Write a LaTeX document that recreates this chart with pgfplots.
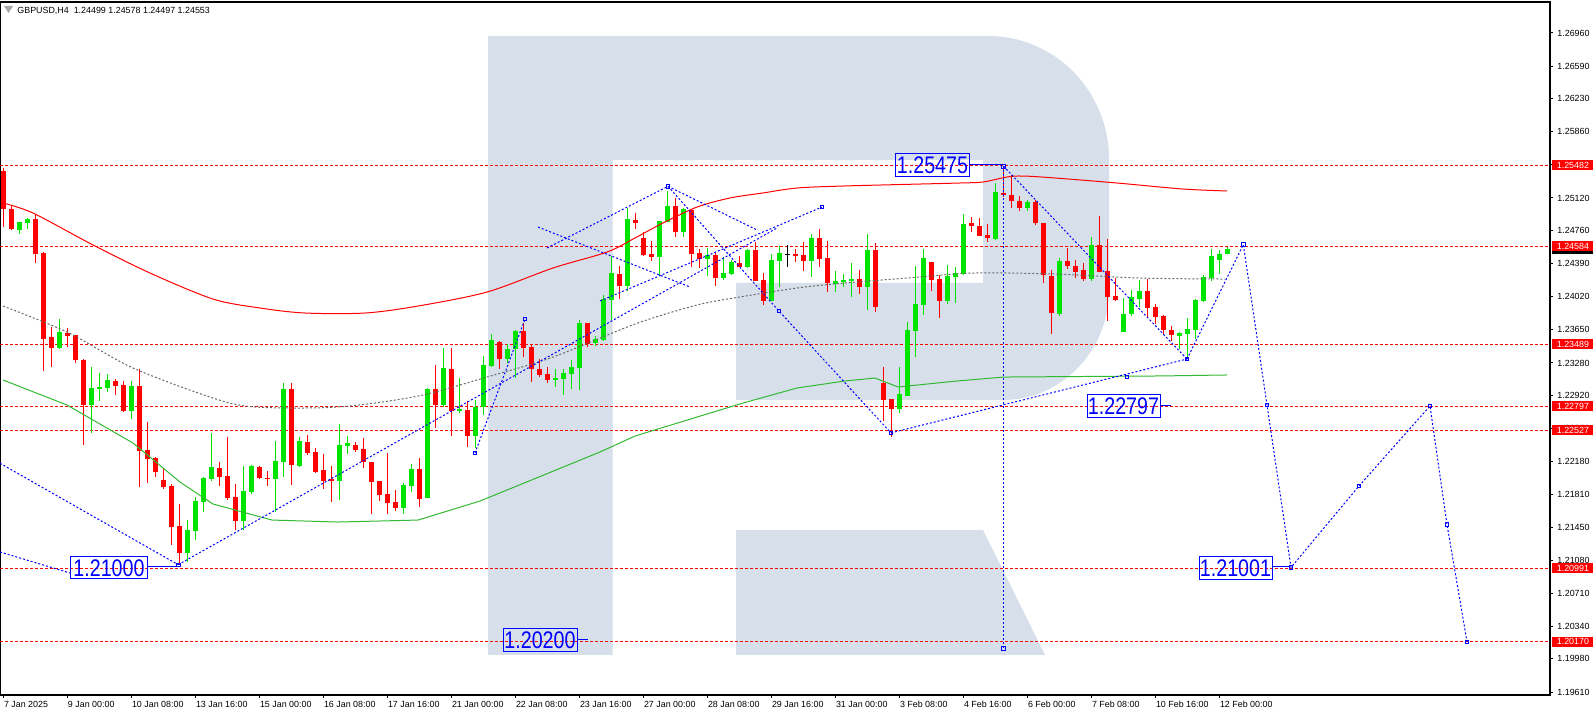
\documentclass[border=0pt]{standalone}
\usepackage{pgfplots}
\pgfplotsset{compat=1.18}
\usepackage{pgfplotstable}
\usepackage{graphicx}
\usepackage{fontspec}
\setmainfont{Liberation Sans}
\definecolor{cred}{RGB}{255,0,0}
\definecolor{cgreen}{RGB}{0,228,0}
\definecolor{wm}{RGB}{214,223,234}
\definecolor{magreen}{RGB}{50,185,50}
\definecolor{magray}{RGB}{105,105,105}
\definecolor{cblue}{RGB}{0,0,255}
\newcommand\tk{\fontsize{4.45}{5}\selectfont}
\newcommand\biglab[1]{\scalebox{0.82}[1]{\fontsize{12}{12}\selectfont #1}}

\pgfplotstableread{
i o h l c
0 1.25424 1.25451 1.24800 1.24997
1 1.24997 1.25030 1.24763 1.24774
4 1.24886 1.24930 1.24398 1.24495
5 1.24506 1.24521 1.23194 1.23547
6 1.23569 1.23684 1.23238 1.23450
8 1.23614 1.23673 1.23461 1.23584
9 1.23592 1.23592 1.23283 1.23313
10 1.23313 1.23324 1.22365 1.22811
14 1.23079 1.23098 1.22926 1.23026
15 1.23034 1.23079 1.22733 1.22744
17 1.23023 1.23213 1.21900 1.22301
18 1.22309 1.22621 1.21938 1.22212
19 1.22220 1.22228 1.22011 1.22067
20 1.21975 1.22094 1.21878 1.21900
21 1.21908 1.21927 1.21250 1.21454
22 1.21462 1.21707 1.21027 1.21160
27 1.22112 1.22175 1.21908 1.22011
28 1.22019 1.22458 1.21752 1.21777
29 1.21788 1.21930 1.21417 1.21521
32 1.22120 1.22134 1.21989 1.21995
33 1.21993 1.22072 1.21908 1.21982
36 1.22986 1.23060 1.21919 1.22142
38 1.22398 1.22480 1.22250 1.22272
39 1.22287 1.22331 1.22049 1.22067
40 1.22086 1.22265 1.21874 1.21963
41 1.21982 1.22134 1.21729 1.21967
44 1.22368 1.22395 1.22290 1.22313
45 1.22324 1.22443 1.22108 1.22172
46 1.22175 1.22175 1.21599 1.21956
47 1.21963 1.21963 1.21740 1.21807
48 1.21822 1.22276 1.21599 1.21721
49 1.21729 1.21863 1.21632 1.21666
52 1.22097 1.22220 1.21677 1.21763
54 1.22990 1.23257 1.22551 1.22814
56 1.23213 1.23447 1.22469 1.22747
58 1.22755 1.22856 1.22346 1.22469
62 1.23514 1.23522 1.23213 1.23321
65 1.23633 1.23729 1.23350 1.23450
66 1.23458 1.23495 1.23071 1.23209
67 1.23213 1.23321 1.23127 1.23149
68 1.23157 1.23232 1.23060 1.23093
73 1.23726 1.23726 1.23461 1.23495
77 1.24272 1.24361 1.23997 1.24138
79 1.24874 1.24956 1.24774 1.24838
80 1.24674 1.24737 1.24473 1.24484
81 1.24495 1.24640 1.24420 1.24465
84 1.25034 1.25116 1.24688 1.24744
86 1.24986 1.24997 1.24354 1.24495
87 1.24503 1.24551 1.24342 1.24443
89 1.24484 1.24503 1.24142 1.24231
92 1.24391 1.24473 1.24347 1.24354
94 1.24540 1.24629 1.24194 1.24194
95 1.24205 1.24280 1.23926 1.23974
99 1.24495 1.24551 1.24409 1.24473
100 1.24484 1.24632 1.24309 1.24417
102 1.24670 1.24771 1.24354 1.24443
103 1.24451 1.24644 1.24075 1.24168
107 1.24216 1.24317 1.24049 1.24130
109 1.24540 1.24615 1.23852 1.23907
110 1.23053 1.23232 1.22636 1.22867
111 1.22878 1.22878 1.22458 1.22763
116 1.24406 1.24406 1.24086 1.24205
117 1.24216 1.24261 1.23778 1.23974
121 1.24838 1.24911 1.24741 1.24807
122 1.24807 1.24900 1.24696 1.24696
123 1.24707 1.24830 1.24629 1.24677
125 1.25176 1.25475 1.25131 1.25150
126 1.25153 1.25376 1.25005 1.25090
127 1.25086 1.25142 1.24978 1.25012
129 1.25078 1.25097 1.24819 1.24838
130 1.24838 1.24844 1.24168 1.24258
131 1.24250 1.24317 1.23600 1.23834
133 1.24417 1.24559 1.24325 1.24365
134 1.24361 1.24428 1.24224 1.24298
135 1.24317 1.24391 1.24191 1.24213
137 1.24592 1.24919 1.24298 1.24298
138 1.24306 1.24659 1.23751 1.24019
139 1.24027 1.24231 1.23974 1.23982
143 1.24083 1.24213 1.23796 1.23896
144 1.23904 1.23934 1.23711 1.23796
145 1.23804 1.23815 1.23592 1.23648
146 1.23644 1.23692 1.23528 1.23592
}\redc

\pgfplotstableread{
i o h l c
2 1.24763 1.24855 1.24718 1.24855
3 1.24844 1.24900 1.24774 1.24886
7 1.23450 1.23770 1.23440 1.23625
11 1.22811 1.23238 1.22502 1.23001
12 1.22993 1.23165 1.22859 1.23015
13 1.23004 1.23157 1.22959 1.23090
16 1.22747 1.23082 1.22658 1.23023
23 1.21160 1.21528 1.21060 1.21417
24 1.21409 1.21788 1.21305 1.21744
25 1.21733 1.22011 1.21621 1.21993
26 1.21986 1.22502 1.21963 1.22116
30 1.21521 1.22131 1.21417 1.21852
31 1.21837 1.22145 1.21818 1.22134
34 1.21986 1.22413 1.21618 1.22187
35 1.22175 1.23060 1.22008 1.22986
37 1.22134 1.22458 1.22123 1.22410
42 1.21963 1.22599 1.21752 1.22368
43 1.22357 1.22469 1.22265 1.22387
50 1.21666 1.21941 1.21599 1.21919
51 1.21911 1.22153 1.21841 1.22097
53 1.21777 1.23000 1.21770 1.22990
55 1.22814 1.23447 1.22785 1.23224
57 1.22747 1.23112 1.22722 1.22766
59 1.22469 1.22867 1.22328 1.22792
60 1.22792 1.23358 1.22700 1.23257
61 1.23249 1.23603 1.23232 1.23536
63 1.23321 1.23491 1.23283 1.23436
64 1.23436 1.23644 1.23109 1.23633
69 1.23093 1.23209 1.23015 1.23112
70 1.23104 1.23209 1.22926 1.23168
71 1.23160 1.23313 1.22993 1.23235
72 1.23227 1.23759 1.22978 1.23726
74 1.23506 1.23584 1.23472 1.23547
75 1.23536 1.24038 1.23530 1.23993
76 1.23982 1.24473 1.23759 1.24283
78 1.24138 1.25005 1.24086 1.24886
82 1.24465 1.24863 1.24261 1.24863
83 1.24855 1.25201 1.24850 1.25034
85 1.24744 1.25005 1.24688 1.24994
88 1.24443 1.24565 1.24250 1.24484
90 1.24231 1.24465 1.24205 1.24280
91 1.24272 1.24428 1.24265 1.24403
93 1.24350 1.24551 1.24342 1.24540
96 1.23974 1.24495 1.23970 1.24428
97 1.24420 1.24588 1.24124 1.24506
101 1.24420 1.24718 1.24242 1.24670
104 1.24157 1.24306 1.24068 1.24191
105 1.24183 1.24272 1.24130 1.24205
106 1.24194 1.24391 1.24012 1.24220
108 1.24130 1.24718 1.23871 1.24540
112 1.22763 1.23232 1.22725 1.22930
113 1.22915 1.23740 1.22910 1.23648
114 1.23640 1.24361 1.23350 1.23938
115 1.23926 1.24554 1.23812 1.24454
118 1.23974 1.24373 1.23938 1.24253
119 1.24239 1.24347 1.23952 1.24283
120 1.24272 1.24941 1.24265 1.24830
124 1.24662 1.25290 1.24651 1.25187
128 1.25012 1.25097 1.24978 1.25078
132 1.23826 1.24447 1.23807 1.24417
136 1.24213 1.24681 1.24191 1.24592
140 1.23629 1.24001 1.23620 1.23823
141 1.23826 1.24094 1.23807 1.24016
142 1.23993 1.24205 1.23907 1.24083
147 1.23584 1.23629 1.23436 1.23614
148 1.23606 1.23778 1.23350 1.23655
149 1.23648 1.23993 1.23547 1.23982
150 1.23971 1.24258 1.23963 1.24239
151 1.24224 1.24554 1.24197 1.24473
152 1.24428 1.24540 1.24272 1.24499
153 1.24499 1.24578 1.24497 1.24553
}\greenc

\pgfplotstableread{
i o h l c
98 1.24496 1.24596 1.24354 1.24488
}\blackc

\pgfplotsset{
  bl/.style={cblue, line width=0.5pt, dash pattern=on 1pt off 1pt, no marks, forget plot},
  hl/.style={cred, line width=0.5pt, dash pattern=on 1.5pt off 1pt, no marks, forget plot},
}

\begin{document}
\begin{tikzpicture}
% watermark
\begin{scope}[shift={(0pt,347.5pt)}, x=0.5pt, y=-0.5pt]
\fill[wm] (488,36) -- (988,36) .. controls (1054.8,36) and (1109,91.1) .. (1109,159) -- (1109,290) .. controls (1109,350.7) and (1061.5,400) .. (1003,400) -- (736,400) -- (736,283) -- (983,283) -- (983,160) -- (612.5,160) -- (612.5,655) -- (488,655) -- cycle;
\fill[wm] (736,530) -- (983,530) -- (1045,655) -- (736,655) -- cycle;
\end{scope}

\begin{axis}[
  scale only axis, width=775pt, height=346.5pt,
  xmin=-0.375, xmax=193.375, ymin=1.19577, ymax=1.27306,
  axis line style={black, line width=0.6pt},
  xtick={0,8,...,152},
  xticklabels={7 Jan 2025,9 Jan 00:00,10 Jan 08:00,13 Jan 16:00,15 Jan 00:00,16 Jan 08:00,17 Jan 16:00,21 Jan 00:00,22 Jan 08:00,23 Jan 16:00,27 Jan 00:00,28 Jan 08:00,29 Jan 16:00,31 Jan 00:00,3 Feb 08:00,4 Feb 16:00,6 Feb 00:00,7 Feb 08:00,10 Feb 16:00,12 Feb 00:00},
  ytick={1.19610,1.19980,1.20340,1.20710,1.21080,1.21450,1.21810,1.22180,1.22550,1.22920,1.23280,1.23650,1.24020,1.24390,1.24760,1.25120,1.25490,1.25860,1.26230,1.26590,1.26960},
  yticklabels={1.19610,1.19980,1.20340,1.20710,1.21080,1.21450,1.21810,1.22180,1.22550,1.22920,1.23280,1.23650,1.24020,1.24390,1.24760,1.25120,1.25490,1.25860,1.26230,1.26590,1.26960},
  xtick pos=lower, ytick pos=upper, xticklabel pos=lower, yticklabel pos=upper,
  tick align=outside, major tick length=1.5pt,
  tick style={black, line width=0.5pt},
  xticklabel style={font=\tk, anchor=north west, inner sep=0pt, xshift=0.3pt, yshift=-1.5pt},
  yticklabel style={font=\tk, anchor=west, inner sep=0pt, xshift=2pt},
  scaled y ticks=false,
  candle/.style={draw=none, mark=none, forget plot, error bars/.cd, y dir=minus, y explicit, error mark=none},
]
% horizontal levels
\addplot[hl] coordinates {(-0.375,1.25482) (193.375,1.25482)};
\addplot[hl] coordinates {(-0.375,1.24584) (193.375,1.24584)};
\addplot[hl] coordinates {(-0.375,1.23489) (193.375,1.23489)};
\addplot[hl] coordinates {(-0.375,1.22797) (193.375,1.22797)};
\addplot[hl] coordinates {(-0.375,1.22527) (193.375,1.22527)};
\addplot[hl] coordinates {(-0.375,1.20991) (193.375,1.20991)};
\addplot[hl] coordinates {(-0.375,1.20170) (193.375,1.20170)};

% wicks
\addplot[candle, error bar style={line width=0.5pt, draw=cred}] table[x=i, y=h, y error expr=\thisrow{h}-\thisrow{l}] {\redc};
\addplot[candle, error bar style={line width=0.5pt, draw=cgreen}] table[x=i, y=h, y error expr=\thisrow{h}-\thisrow{l}] {\greenc};
\addplot[candle, error bar style={line width=0.5pt, draw=black}] table[x=i, y=h, y error expr=\thisrow{h}-\thisrow{l}] {\blackc};
% bodies
\addplot[candle, error bar style={line width=2.5pt, draw=cred}] table[x=i, y=o, y error expr=\thisrow{o}-\thisrow{c}] {\redc};
\addplot[candle, error bar style={line width=2.5pt, draw=cgreen}] table[x=i, y=c, y error expr=\thisrow{c}-\thisrow{o}] {\greenc};
\addplot[candle, error bar style={line width=2.5pt, draw=black}] table[x=i, y=o, y error expr=\thisrow{o}-\thisrow{c}] {\blackc};

% moving averages
\addplot[cred, line width=0.5pt, no marks, smooth] coordinates {(0,1.25064) (3.75,1.24952) (11.25,1.24596) (18.375,1.24283) (26.25,1.23993) (32.125,1.23893) (37.75,1.23837) (45.25,1.23837) (51.875,1.23915) (60.5,1.24071) (68.75,1.24339) (75.5,1.24517) (79,1.24674) (82.5,1.24841) (86.75,1.25019) (90.875,1.25120) (95,1.25176) (99.25,1.25231) (105.25,1.25254) (119.625,1.25287) (122.5,1.25298) (125.5,1.25354) (127.5,1.25365) (131.5,1.25343) (139.25,1.25287) (147.5,1.25220) (153,1.25198)};
\addplot[magray, line width=0.5pt, no marks, smooth, dash pattern=on 1pt off 1pt] coordinates {(0,1.23915) (8,1.23625) (16.25,1.23224) (26.25,1.22889) (31.5,1.22789) (41.875,1.22789) (51.875,1.22911) (60.5,1.23123) (68.75,1.23346) (79,1.23714) (86.75,1.23926) (92.125,1.24016) (99.25,1.24116) (105.25,1.24172) (113,1.24227) (121.25,1.24283) (131.5,1.24272) (142.125,1.24227) (152.75,1.24216)};
\addplot[magreen, line width=0.5pt, no marks] coordinates {(0,1.23090) (8,1.22811) (16.25,1.22387) (22.125,1.21952) (26.25,1.21707) (33.625,1.21528) (41.875,1.21506) (51.875,1.21528) (59.625,1.21740) (74.625,1.22287) (79,1.22465) (86.75,1.22677) (92.5,1.22833) (99.25,1.23001) (105.25,1.23079) (109,1.23112) (111.875,1.23012) (119.25,1.23079) (125.125,1.23123) (144.625,1.23135) (153,1.23146)};

% forecast / analysis lines
\addplot[bl] coordinates {(-0.375,1.22161) (21.9,1.2103)};
\addplot[bl] coordinates {(-0.375,1.21172) (8.375,1.20937)};
\addplot[bl] coordinates {(21.9,1.2103) (96.75,1.24785)};
\addplot[bl] coordinates {(59,1.22276) (65.25,1.23770)};
\addplot[bl] coordinates {(66.875,1.24796) (85.875,1.24127)};
\addplot[bl] coordinates {(68,1.24562) (83.125,1.2525)};
\addplot[bl] coordinates {(83.125,1.2525) (94.25,1.24763)};
\addplot[bl] coordinates {(83.125,1.2525) (97,1.23859) (111,1.2250)};
\addplot[bl] coordinates {(74.625,1.23971) (102.375,1.25019)};
\addplot[bl] coordinates {(111,1.2250) (148,1.23324)};
\addplot[bl] coordinates {(125.06,1.25475) (148,1.23324)};
\addplot[bl] coordinates {(125.06,1.25475) (125.06,1.2010)};
\addplot[bl] coordinates {(148,1.23324) (155.04,1.2460) (158,1.22811) (161,1.2100) (169.5,1.21908) (178.375,1.2280) (180.5,1.21478) (183,1.2017)};
\addplot[only marks, mark=square, mark size=0.9pt, cblue, mark options={line width=0.35pt, solid}, forget plot] coordinates {(21.9,1.2103) (59,1.22276) (65.25,1.2377) (83.125,1.2525) (97,1.23859) (111,1.2250) (102.375,1.25019) (148,1.23324) (125.06,1.25475) (125.06,1.2010) (155.04,1.2460) (158,1.22811) (161,1.2100) (169.5,1.21908) (178.375,1.2280) (180.5,1.21478) (183,1.2017) (140.5,1.23123)};
\end{axis}

% annotations in pixel units
\begin{scope}[shift={(0pt,347.5pt)}, x=0.5pt, y=-0.5pt]
% title
\fill[gray!70] (4,6) -- (13,6) -- (8.5,13) -- cycle;
\node[anchor=west, inner sep=0, font=\tk] at (17,10.5) {GBPUSD,H4\ \ 1.24499 1.24578 1.24497 1.24553};
% blue labels
\node[draw=cblue, line width=0.5pt, text=cblue, inner sep=0, minimum width=37pt, minimum height=11.5pt] at (932.5,165) {\biglab{1.25475}};
\draw[cblue, line width=0.5pt] (970,165) -- (1003,165);
\node[draw=cblue, line width=0.5pt, text=cblue, inner sep=0, minimum width=38.5pt, minimum height=11pt] at (109,568) {\biglab{1.21000}};
\draw[cblue, line width=0.5pt] (148,567) -- (176,567);
\node[draw=cblue, line width=0.5pt, text=cblue, inner sep=0, minimum width=37pt, minimum height=11.5pt] at (540,640.5) {\biglab{1.20200}};
\draw[cblue, line width=0.5pt] (577,640) -- (588,640);
\node[draw=cblue, line width=0.5pt, text=cblue, inner sep=0, minimum width=36.5pt, minimum height=11.5pt] at (1123.5,406) {\biglab{1.22797}};
\draw[cblue, line width=0.5pt] (1160,406) -- (1171,406);
\node[draw=cblue, line width=0.5pt, text=cblue, inner sep=0, minimum width=36.5pt, minimum height=11.5pt] at (1235.5,568) {\biglab{1.21001}};
\draw[cblue, line width=0.5pt] (1272,567) -- (1290,567);
% right price labels (current price box mostly hidden behind the level box)
\fill[black] (1552,244.5) rectangle (1593,254.5);
\foreach \yy/\tx in {165.5/1.25482, 246/1.24584, 344.2/1.23489, 406.3/1.22797, 430.5/1.22527, 568.2/1.20991, 641.8/1.20170}{
  \node[fill=cred, text=white, font=\tk, inner sep=0, minimum height=5pt, minimum width=20.5pt, anchor=west] at (1552,\yy) {\tx};
}
\end{scope}
\pgfresetboundingbox
\useasboundingbox (0pt,-10.5pt) rectangle (798pt,347.5pt);
\end{tikzpicture}
\end{document}
